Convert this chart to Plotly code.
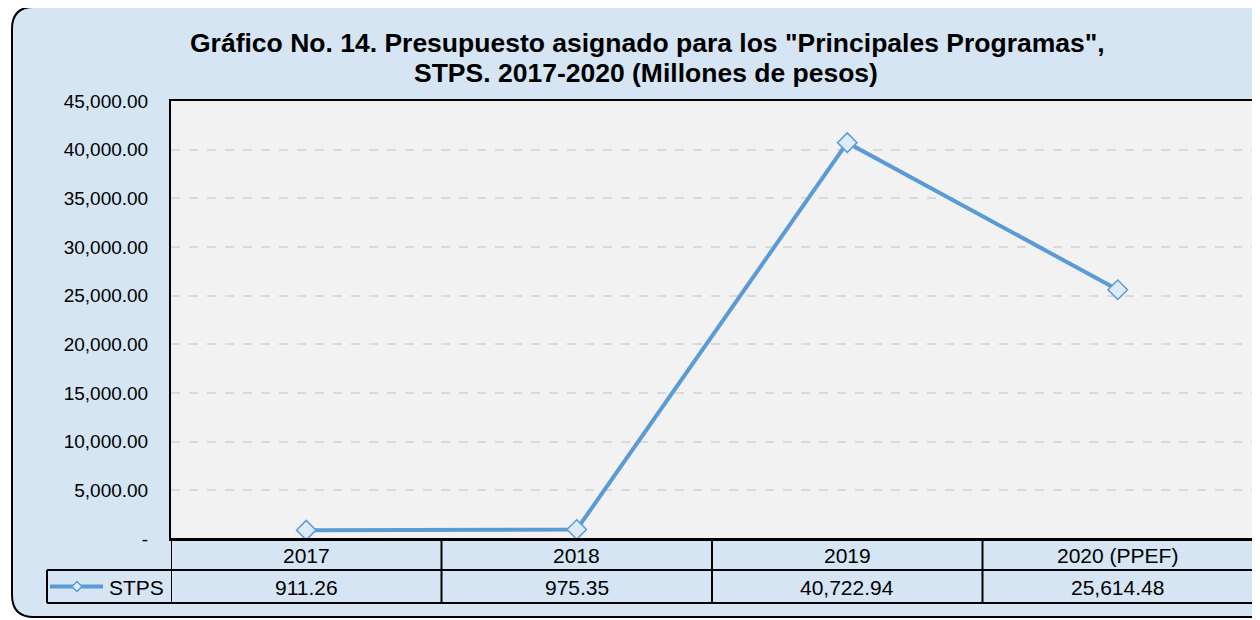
import plotly.graph_objects as go

categories = ["2017", "2018", "2019", "2020 (PPEF)"]
stps_values = [911.26, 975.35, 40722.94, 25614.48]
series_name = "STPS"
y_ticks = [0, 5000, 10000, 15000, 20000, 25000, 30000, 35000, 40000, 45000]
y_tick_labels = ["-" if v == 0 else f"{v:,.2f}" for v in y_ticks]
title_lines = ['Gráfico No. 14. Presupuesto asignado para los "Principales Programas",',
               "STPS. 2017-2020 (Millones de pesos)"]

W, H = 1268, 628
OFF = 8  # page body margin offset
BG = "#d6e5f3"
LINE = "#5b9bd5"
MFILL = "#ddebf7"
FONT = "Liberation Sans, Arial, sans-serif"

# pixel geometry (target screen pixels)
PL, PR, PT, PB = 171, 1253, 101, 539
ROW1, ROW2 = 570, 603
LEG_L = 47


def px(x):
    return (x - OFF) / W


def py(y):
    return 1 - (y - OFF) / H


fig = go.Figure()
fig.add_trace(go.Scatter(
    x=list(range(len(categories))), y=stps_values, mode="lines+markers",
    name=series_name,
    line=dict(color=LINE, width=4),
    marker=dict(symbol="diamond", size=15, color=MFILL, line=dict(color=LINE, width=1.5)),
    showlegend=False, cliponaxis=False,
))

shapes = []
# rounded outer border
r = 22
x0, y0, x1, y1 = 12, 7, 1300, 617
path = (f"M {px(x0+r)} {py(y0)} L {px(x1)} {py(y0)} L {px(x1)} {py(y1)} L {px(x0+r)} {py(y1)} "
        f"Q {px(x0)} {py(y1)} {px(x0)} {py(y1-r)} L {px(x0)} {py(y0+r)} "
        f"Q {px(x0)} {py(y0)} {px(x0+r)} {py(y0)} Z")
shapes.append(dict(type="path", xref="paper", yref="paper", path=path,
                   fillcolor=BG, line=dict(color="black", width=2), layer="below"))
# plot area background
shapes.append(dict(type="rect", xref="paper", yref="paper", x0=px(PL), x1=px(PR), y0=py(PB), y1=py(PT),
                   fillcolor="#f2f2f2", line=dict(width=0), layer="below"))


def hline(y, xa, xb, w=2):
    shapes.append(dict(type="line", xref="paper", yref="paper", x0=px(xa), x1=px(xb), y0=py(y), y1=py(y),
                       line=dict(color="black", width=w)))


def vline_data(xd, ya, yb, w=2):
    shapes.append(dict(type="line", xref="x", yref="paper", x0=xd, x1=xd, y0=py(ya), y1=py(yb),
                       line=dict(color="black", width=w)))


hline(PB, PL, PR)
hline(ROW1, LEG_L, PR)
hline(ROW2, LEG_L, PR)
n = len(categories)
for i in range(n + 1):
    vline_data(i - 0.5, PB, ROW2)
shapes.append(dict(type="line", xref="paper", yref="paper", x0=px(LEG_L), x1=px(LEG_L), y0=py(ROW1), y1=py(ROW2),
                   line=dict(color="black", width=2)))
# legend key
ly = (ROW1 + ROW2) / 2
shapes.append(dict(type="line", xref="paper", yref="paper", x0=px(50), x1=px(103), y0=py(ly), y1=py(ly),
                   line=dict(color=LINE, width=4)))
d = 5
cx = 77
shapes.append(dict(type="path", xref="paper", yref="paper",
                   path=f"M {px(cx-d)} {py(ly)} L {px(cx)} {py(ly-d)} L {px(cx+d)} {py(ly)} L {px(cx)} {py(ly+d)} Z",
                   fillcolor=MFILL, line=dict(color=LINE, width=1.5)))

annotations = []
for i, (c, v) in enumerate(zip(categories, stps_values)):
    annotations.append(dict(x=i, y=py((PB + ROW1) / 2 + 1), xref="x", yref="paper", text=c, showarrow=False,
                            font=dict(size=21, color="black", family=FONT), yanchor="middle"))
    annotations.append(dict(x=i, y=py((ROW1 + ROW2) / 2 + 1), xref="x", yref="paper", text=f"{v:,.2f}",
                            showarrow=False, font=dict(size=21, color="black", family=FONT), yanchor="middle"))
annotations.append(dict(x=px(107), y=py(ly + 1), xref="paper", yref="paper", text=series_name, showarrow=False,
                        xanchor="left", yanchor="middle", font=dict(size=21, color="black", family=FONT)))
annotations.append(dict(x=px(647), y=py(43), xref="paper", yref="paper", text=f"<b>{title_lines[0]}</b>",
                        showarrow=False, xanchor="center", yanchor="middle",
                        font=dict(size=26.5, color="black", family=FONT)))
annotations.append(dict(x=px(646), y=py(73), xref="paper", yref="paper", text=f"<b>{title_lines[1]}</b>",
                        showarrow=False, xanchor="center", yanchor="middle",
                        font=dict(size=26.5, color="black", family=FONT)))

fig.update_layout(
    template="none",
    width=W, height=H, margin=dict(l=0, r=0, t=0, b=0, pad=0, autoexpand=False),
    paper_bgcolor="white", plot_bgcolor="rgba(0,0,0,0)",
    shapes=shapes, annotations=annotations, showlegend=False,
    xaxis=dict(domain=[px(PL), px(PR)], range=[-0.5, n - 0.5], showticklabels=False, showgrid=False,
               zeroline=False, showline=True, mirror=True, linecolor="black", linewidth=2, fixedrange=True,
               automargin=False, ticks=""),
    yaxis=dict(domain=[py(PB), py(PT)], range=[0, 45000], tickvals=y_ticks, ticktext=y_tick_labels,
               showgrid=True, gridcolor="#d9d9d9", griddash="dash", gridwidth=1.5, zeroline=False,
               showline=True, mirror=True, linecolor="black", linewidth=2, ticks="", ticklabelstandoff=17,
               tickfont=dict(size=19, color="black", family=FONT), fixedrange=True, automargin=False),
    font=dict(family=FONT),
)

fig.write_html("out.html")
